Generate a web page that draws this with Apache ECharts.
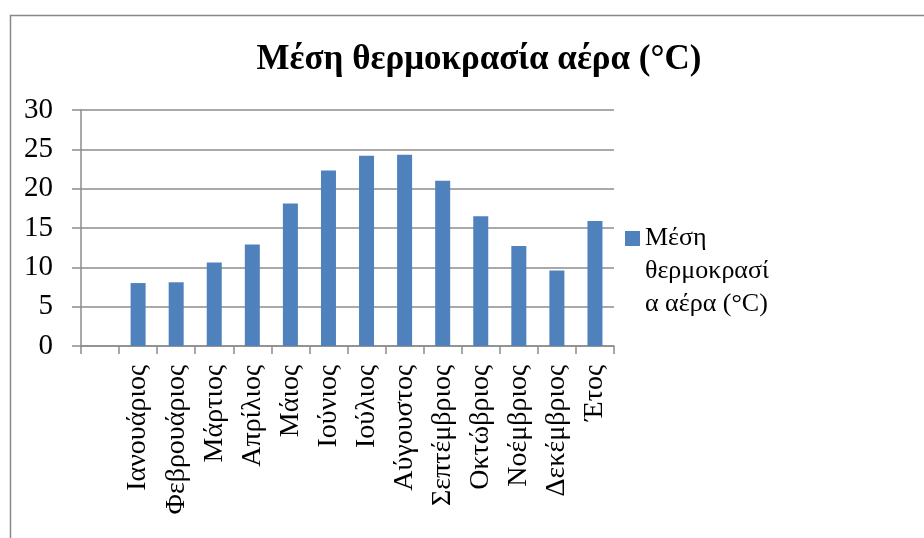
<!DOCTYPE html>
<html>
<head>
<meta charset="utf-8">
<script src="https://cdn.jsdelivr.net/npm/echarts@6/dist/echarts.min.js"></script>
<style>
  html, body { margin: 0; padding: 0; background: #fff; }
  #chart { width: 924px; height: 538px; }
</style>
</head>
<body>
<div id="chart"></div>
<script>
// Monthly mean air temperature plus the annual mean; the first slot is left empty.
const categories = ['', 'Ιανουάριος', 'Φεβρουάριος', 'Μάρτιος', 'Απρίλιος', 'Μάιος', 'Ιούνιος',
  'Ιούλιος', 'Αύγουστος', 'Σεπτέμβριος', 'Οκτώβριος', 'Νοέμβριος', 'Δεκέμβριος', 'Έτος'];
const temperatures = [null, 8.0, 8.1, 10.6, 12.9, 18.1, 22.3, 24.2, 24.3, 21.0, 16.5, 12.7, 9.6, 15.9];
const seriesName = 'Μέση θερμοκρασία αέρα (°C)';
const legendLines = ['Μέση', 'θερμοκρασί', 'α αέρα (°C)'];

const FONT = '"Liberation Serif", "DejaVu Serif", serif';
const GRID_GRAY = '#8c8c8c';
const LEGEND_FONT = 26;
const LEGEND_LINE = 33;
const LEGEND_X = 625, FIRST_LINE_CENTER = 238.5, SWATCH = 15, TEXT_GAP = 5;

const chart = echarts.init(document.getElementById('chart'), null, { renderer: 'canvas' });

// The legend swatch sits beside the first line; the wrapped remainder follows below it.
const legendTail = legendLines.slice(1).map((line, i) => ({
  type: 'text',
  x: LEGEND_X + SWATCH + TEXT_GAP,
  y: FIRST_LINE_CENTER + LEGEND_LINE * (i + 1),
  silent: true,
  style: {
    text: line,
    font: `${LEGEND_FONT}px ${FONT}`,
    fill: '#000',
    verticalAlign: 'middle',
    align: 'left'
  }
}));

chart.setOption({
  animation: false,
  backgroundColor: '#fff',
  title: {
    text: seriesName,
    left: 474,
    textAlign: 'center',
    top: 37,
    textStyle: { fontFamily: FONT, fontWeight: 'bold', fontSize: 35, color: '#000' }
  },
  graphic: [{
    type: 'rect',
    shape: { x: 10.5, y: 15.5, width: 940, height: 560 },
    style: { fill: 'none', stroke: '#888', lineWidth: 1.5 },
    silent: true
  }].concat(legendTail),
  legend: {
    data: [{ name: seriesName }],
    left: LEGEND_X,
    top: FIRST_LINE_CENTER - LEGEND_LINE / 2,
    padding: 0,
    orient: 'vertical',
    icon: 'rect',
    itemWidth: SWATCH,
    itemHeight: SWATCH,
    formatter: () => legendLines[0],
    textStyle: { fontFamily: FONT, fontSize: LEGEND_FONT, color: '#000', lineHeight: LEGEND_LINE }
  },
  grid: { left: 81, right: 310, top: 110, bottom: 192, containLabel: false },
  xAxis: {
    type: 'category',
    data: categories,
    boundaryGap: true,
    axisLine: { lineStyle: { color: GRID_GRAY, width: 1.5 } },
    axisTick: { show: true, length: 8, alignWithLabel: false, lineStyle: { color: GRID_GRAY, width: 1.5 } },
    axisLabel: { rotate: 90, interval: 0, margin: 19, fontFamily: FONT, fontSize: 28, color: '#000' }
  },
  yAxis: {
    type: 'value',
    min: 0,
    max: 30,
    interval: 5,
    axisLine: { show: true, lineStyle: { color: GRID_GRAY, width: 1.5 } },
    axisTick: { show: true, length: 9, lineStyle: { color: GRID_GRAY, width: 1.5 } },
    splitLine: { show: true, lineStyle: { color: GRID_GRAY, width: 1.5 } },
    axisLabel: { margin: 28, fontFamily: FONT, fontSize: 29, color: '#000' }
  },
  series: [{
    name: seriesName,
    type: 'bar',
    data: temperatures,
    barWidth: 15,
    itemStyle: { color: '#4F81BD' }
  }]
});
</script>
</body>
</html>
